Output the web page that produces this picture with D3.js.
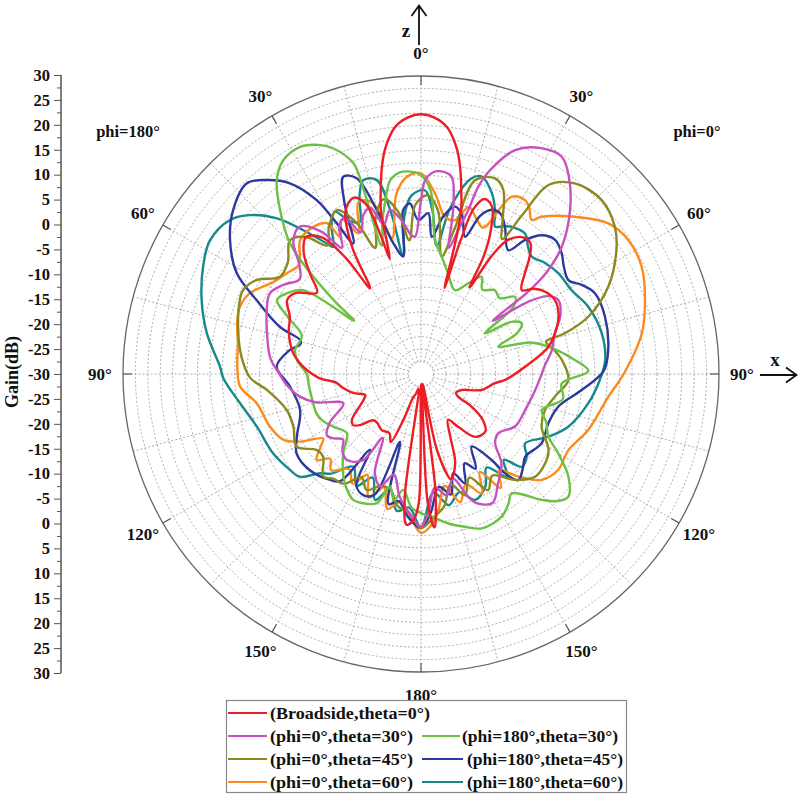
<!DOCTYPE html>
<html><head><meta charset="utf-8">
<script src="https://cdn.jsdelivr.net/npm/d3@7"></script>
<style>body{margin:0;background:#fff;} svg text{font-family:"Liberation Serif","Times New Roman",serif;font-weight:bold;fill:#111;}</style>
</head><body><svg id="c" width="800" height="796"></svg>
<script>
// ---- data ----
const axisTickLabels = ["30","25","20","15","10","5","0","-5","-10","-15","-20","-25","-30","-25","-20","-15","-10","-5","0","5","10","15","20","25","30"];
const angleTicks = [0,30,60,90,120,150,180,210,240,270,300,330];
const angleLabels = ["0°","30°","60°","90°","120°","150°","180°","150°","120°","90°","60°","30°"];
const seriesNames = ["(Broadside,theta=0°)","(phi=0°,theta=30°)","(phi=180°,theta=30°)","(phi=0°,theta=45°)","(phi=180°,theta=45°)","(phi=0°,theta=60°)","(phi=180°,theta=60°)"];
const seriesColors = ["#ee1d24","#c652c0","#6cc145","#8a8a1f","#2c3a9d","#fb8b1d","#16898a"];

// [angle (deg, clockwise from z), gain (dB)]
const red = [[-179,-4],[-177,-0.5],[-174.5,0.5],[-172.5,-5],[-170.5,-27],[-166,-26],[-161.3,-25],[-159,-20],[-156,-15],[-152,-16.5],[-145,-16.2],[-138,-16.8],[-134,-16.6],[-130,-14],[-127,-12.9],[-123.6,-13.3],[-119,-15.5],[-114.3,-17.3],[-110.6,-18],[-105.6,-15.8],[-100,-14],[-96,-12.9],[-92,-9.3],[-86,-6],[-81,-4],[-77,-3],[-72,-2],[-66.5,-1.2],[-61,0.8],[-57,0],[-52,-3.4],[-48,0],[-44,4],[-40,6],[-36,4],[-33,-2],[-30.7,-9.9],[-28.5,-1],[-25,6],[-21,8],[-18,6],[-16.2,-1],[-15.2,-6],[-14.5,-3],[-13.9,3.5],[-12.5,7.5],[-10.7,12.4],[-9,16],[-6,20],[-3,21.7],[0,22.3],[3,21.7],[6,20],[9,16],[10.7,12.4],[12.5,7.5],[13.9,3.5],[14.7,-4],[15.3,-12],[16.5,-2],[17.7,5],[20,7.5],[23,6.6],[26,2],[28,-3],[29.3,-10],[31,-2],[33,2.2],[37,4.4],[40,4.3],[43,2],[45.8,-0.8],[50.2,-3.6],[53,-1.5],[56.5,0],[61,0.8],[66,0.3],[70.8,-1],[78,-3.8],[86,-9],[94,-13],[97,-15],[104.8,-17.4],[111.5,-21.2],[118,-22],[121.5,-21.3],[122.8,-17.9],[126.6,-14.5],[132,-12.6],[139.3,-13.3],[144.9,-17],[149.6,-19.3],[155,-16],[159,-10.8],[164,-8],[168,-14],[171,-28],[173,-6],[175,1],[177,-4],[178.8,-28]];
const pink = [[-180,0.7],[-175,-2],[-170,-5],[-165,-9],[-160,-6],[-155,-8],[-149,-15],[-146,-9],[-139,-7.1],[-134,-8],[-130,-9.5],[-126,-8],[-123,-7.4],[-118,-9.2],[-110.7,-13.3],[-105,-8],[-100.6,-5.2],[-95,-3],[-90,-1.5],[-84,0.5],[-75,2.1],[-68,3.5],[-62,4.5],[-57,3],[-52,1],[-48,3],[-44,7],[-39.4,8.4],[-35,5],[-32,0],[-29,4],[-26,5],[-23,1],[-20,4],[-17,5],[-14,1],[-10.7,3.6],[-7,1],[-4,-2],[-2.5,-2.3],[0,5],[1.2,9],[3.5,10.7],[5.8,11],[8.8,10.2],[11,4],[12.5,-4],[14.5,0],[16.1,4.4],[17,9.4],[18.7,13.3],[22.8,18.9],[28,21.5],[33,22.1],[36.9,19.6],[42.3,14.6],[47.9,8.2],[51,2.5],[52.5,-3],[53.5,-12],[56,-4],[58.5,0],[61.7,1.4],[67,0.5],[73,-1.8],[80,-3.3],[86,-5],[92,-6],[100,-7],[109,-7.8],[119,-8.3],[127.5,-10.4],[133,-9.6],[138,-5.8],[145,-3],[151,-0.3],[157,-1.8],[159,-3.5],[163,-8],[168,-5],[173,-7],[177,-2]];
const green = [[-180,-2],[-176,-3],[-171.3,-6.4],[-168,-4],[-164.6,-6.5],[-161.1,-2.5],[-156,-1.5],[-151.7,-1.2],[-147,-2.5],[-142.9,-4.1],[-135.6,-7.6],[-128.6,-10.9],[-121,-9.4],[-115,-8],[-110.2,-7.5],[-103,-7.5],[-96,-7.3],[-90,-7],[-84,-5],[-79.2,-4.2],[-72.2,-4.8],[-67,-1],[-62.8,2.6],[-59,1.5],[-54.5,-0.9],[-51.5,-12.8],[-50,-7.8],[-47.9,-0.8],[-45.1,7.2],[-40.7,13.5],[-36.6,18.7],[-32.8,21.2],[-28,21.8],[-24,20.5],[-21.2,18.7],[-17.8,14.6],[-17.3,8],[-17,-3],[-14,2],[-12,5],[-9,9.5],[-6,10.8],[-3,10.8],[0,10],[3,7],[6,-2.9],[10,-6],[15,-9],[22,-11.8],[27.5,-9.4],[32,-6.9],[36,-9],[41.4,-7.5],[46,-8],[50.6,-5.5],[54,-7],[57.5,-14.7],[60,-9],[63.3,-7.3],[67,-9],[70.5,-13.5],[74,-7],[77.9,-3.8],[84.8,1.1],[89,3.7],[93.8,-1.6],[100,-1],[106.6,-4.6],[111,-3],[116.2,-1.4],[120,1.9],[124.9,6.2],[129.8,8.6],[133,7.5],[136.2,5.1],[142.8,0.2],[146,1.5],[150.5,3],[158.5,3.4],[164,2],[169.6,0.6],[175,-1]];
const olive = [[-180,1],[-175,-2],[-170,-3],[-165,-6],[-160,-6],[-154.9,-4.2],[-150,-6],[-145,-3],[-140,-2.5],[-136.4,-1.5],[-130.2,-4.2],[-126,-4],[-120.3,-1],[-112.4,-2.2],[-105,-2],[-95.9,1.2],[-91.3,4.4],[-85,6.2],[-77.4,7.7],[-67.8,9.4],[-64.7,9.6],[-60.2,8.1],[-55.4,4.5],[-50,5],[-44.4,7.7],[-40,6],[-36,2],[-32,5],[-27.2,7.1],[-23,3],[-20,-3],[-16,3],[-12,6],[-8,3],[-5,-3],[-2,4],[2,6],[6,3],[10,-6],[13,0],[15.6,10.5],[20.7,12.1],[24.1,10.6],[28,5],[31,1.7],[32.5,8],[34,15.9],[38.9,19.3],[46.1,20.5],[52.8,19],[57.6,16.6],[65,11.6],[71.1,5.6],[74.2,0.1],[75.5,-4],[79,-3],[84.3,-1.5],[92.3,-0.3],[99,-2.5],[106.2,-4],[113.6,-3.5],[120.8,-0.1],[125.8,0.8],[132,0.9],[138.4,-1.5],[145,-5],[150,-3],[155,-7],[160,-4],[165,-7],[170,-3],[175,-1]];
const blue = [[-180,1],[-175,-1],[-170,-4],[-166,-3],[-162.8,-15.7],[-159,-4],[-155,-3],[-150,-4],[-146.1,-11.6],[-143,-3],[-139.4,-1.9],[-130.9,-0.4],[-122.5,-0.3],[-116.8,-2],[-106.6,-4.6],[-95.5,-3.5],[-87.1,-0.9],[-80,-3],[-76,-5],[-74.3,-4.7],[-71.5,0],[-65.8,6.3],[-61.3,12.3],[-54.9,17],[-48.9,20.2],[-42.4,22],[-38.5,19.9],[-34.5,16.6],[-31,10.9],[-29.2,4.8],[-27.4,-0.4],[-24,8],[-21.5,12.7],[-18.2,11.5],[-15,4],[-12,-3],[-8.6,-6],[-6.2,3.2],[-3.7,4.4],[-1,1],[2.6,2.4],[4.5,-2.3],[8,2],[11.5,4.4],[14.5,3],[17.8,-1],[20.5,4],[23.3,6],[26.5,6],[29.7,4.1],[35.2,0.5],[37.8,4.1],[41,7],[45,8.2],[49.4,7.3],[53,6],[57.5,5.2],[61,7],[65.1,8.6],[72.7,8.8],[82.7,8],[89,6.8],[95.7,2.5],[103.4,-1.6],[111.2,-2.5],[119.9,-2],[128.5,-3.2],[133,-2],[137.5,-1],[139.8,-3.8],[140.6,-7.6],[145.1,-12.2],[150,-8],[154,-10],[158.1,-6.3],[162,-9],[166,-5],[171,-7],[176,-2]];
const orange = [[-180,2],[-176,-1],[-171,-4],[-166,-2],[-162,-6],[-157,-3],[-152,-7],[-148,-4],[-143,-6],[-137,-3.5],[-133,-5],[-129.5,-2.8],[-126,-5],[-123.4,-6.4],[-119.2,-2.1],[-115.6,0.7],[-109.2,2.2],[-100.1,3.6],[-94,6.5],[-88,7],[-80.4,7.4],[-74,8.5],[-69.6,8.9],[-64.7,8.1],[-58,5],[-53.1,3.8],[-48,3],[-42.1,6.3],[-36.2,6.7],[-32,5.8],[-30.5,2.1],[-27,5],[-24,1],[-20,6.8],[-16,6],[-12,-2],[-9,4],[-7.7,6.7],[-4.1,9.8],[0,10.4],[4.4,6.5],[8.7,2],[12.4,1.7],[16,5],[20,3],[23,2],[27.1,10.1],[30.9,10.8],[33,10],[35.7,8.2],[37.5,9.9],[44.4,14.3],[51.2,18.4],[57.1,19.7],[64.1,19.4],[71.7,17.5],[79.6,15.2],[90,10.8],[96.9,8],[108.5,5.5],[117.3,3.4],[124.9,3.7],[131.3,2.3],[136.5,-1.5],[141,-5],[145,-2],[149,-7],[153,-3],[158,-6],[163,-3],[168,-7],[173,-2],[177,1]];
const teal = [[-180,1],[-175,-3],[-170,-2],[-165,-6],[-160,-3],[-155,-7],[-150,-4],[-143.9,-6.9],[-138,-3],[-134.5,-1.5],[-130.3,2],[-126.2,2.7],[-118.2,3.8],[-107.8,4.7],[-99.2,6.9],[-91.2,9.8],[-87.9,10.5],[-79.2,13.9],[-71.4,16.6],[-63.8,18.9],[-57.6,20.3],[-51.1,19.4],[-47.1,17],[-42.8,12.7],[-39.3,7.4],[-35.8,2.4],[-34.6,1.1],[-31,5],[-28,7],[-25,4],[-22,3],[-19,8],[-16.6,10.7],[-12.9,10.1],[-10.5,3],[-8.6,-6.1],[-6,2],[-3,6],[1.2,7],[4,3],[7,-4],[10,4],[14.5,10.7],[17.1,11.6],[21.4,9.1],[24.5,6],[26.7,3.2],[29,4],[31.6,4.8],[36.5,5.2],[40,3.5],[43.3,2.5],[48,3.5],[53.7,4.3],[60.9,4.7],[68.1,6.3],[77.3,7.3],[85.6,7.2],[92,6],[99.9,4.2],[109.7,1.5],[116.2,-1.4],[123.7,-4.8],[128,-3],[132.6,-2.4],[136,-6],[140,-3],[145,-7],[150,-4],[156.8,-2.4],[162,-5],[168,-3],[174,-6]];
const seriesData = [red,pink,green,olive,blue,orange,teal];

// ---- drawing ----
const svg = d3.select("#c");
const CX = 421, CY = 374, R = 298;
const r = d3.scaleLinear().domain([-30,30]).range([0,R]);
const rad = d => d*Math.PI/180;

const g = svg.append("g").attr("transform",`translate(${CX},${CY})`);
const ringVals = d3.range(-27.5, 30, 2.5);
g.selectAll("circle.ring").data(ringVals).join("circle")
  .attr("r", d=>r(d)).attr("fill","none").attr("stroke","#9a9a9a")
  .attr("stroke-width",0.8).attr("stroke-dasharray","2,2");
const spokeAngles = d3.range(0,360,15);
g.selectAll("line.spoke").data(spokeAngles).join("line")
  .attr("x1", d=>r(-27.5)*Math.sin(rad(d))).attr("y1", d=>-r(-27.5)*Math.cos(rad(d)))
  .attr("x2", d=>R*Math.sin(rad(d))).attr("y2", d=>-R*Math.cos(rad(d)))
  .attr("stroke","#9a9a9a").attr("stroke-width",0.8).attr("stroke-dasharray","2,2");
g.append("circle").attr("r",R).attr("fill","none").attr("stroke","#666").attr("stroke-width",1.3);
g.selectAll("line.otick").data(angleTicks).join("line")
  .attr("x1", d=>(R-9)*Math.sin(rad(d))).attr("y1", d=>-(R-9)*Math.cos(rad(d)))
  .attr("x2", d=>R*Math.sin(rad(d))).attr("y2", d=>-R*Math.cos(rad(d)))
  .attr("stroke","#555").attr("stroke-width",1.2);
const LR = 321;
g.selectAll("text.alab").data(angleTicks).join("text")
  .attr("x", d=>LR*Math.sin(rad(d))).attr("y", d=>-LR*Math.cos(rad(d)))
  .attr("text-anchor","middle").attr("dominant-baseline","central")
  .attr("font-size",17).text((d,i)=>angleLabels[i]);

const line = d3.lineRadial()
  .angle(d=>rad(d[0]))
  .radius(d=>r(Math.max(-30,d[1])))
  .curve(d3.curveCatmullRomClosed.alpha(0.5));
const order = [6,5,4,3,2,1,0];
order.forEach(i=>{
  g.append("path").attr("d", line(seriesData[i])).attr("fill","none")
    .attr("stroke", seriesColors[i]).attr("stroke-width",2.4).attr("stroke-linejoin","round");
});

const ay = d3.scaleLinear().domain([0,24]).range([75,673]);
const axG = svg.append("g").attr("transform","translate(61,0)");
axG.call(d3.axisLeft(ay).tickValues(d3.range(0,25)).tickSize(7).tickPadding(4).tickFormat(i=>axisTickLabels[i]));
axG.append("g").call(d3.axisLeft(ay).tickValues(d3.range(0.5,24,1)).tickSize(4).tickFormat(""));
axG.selectAll(".domain").attr("stroke","#555").attr("d","M0,75V673");
axG.selectAll(".tick line").attr("stroke","#555");
axG.selectAll(".tick text").attr("font-size",16.5).attr("font-family","Liberation Serif").attr("font-weight","bold").attr("fill","#111");
svg.append("text").attr("transform","translate(18,372) rotate(-90)").attr("text-anchor","middle")
  .attr("font-size",18).text("Gain(dB)");

svg.append("text").attr("x",128).attr("y",137).attr("text-anchor","middle").attr("font-size",16.5).text("phi=180°");
svg.append("text").attr("x",697).attr("y",137).attr("text-anchor","middle").attr("font-size",16.5).text("phi=0°");

svg.append("path").attr("d","M419,45V6M411.5,16L419,5.5L426.5,16").attr("fill","none").attr("stroke","#111").attr("stroke-width",1.8);
svg.append("text").attr("x",406).attr("y",37).attr("text-anchor","middle").attr("font-size",19).text("z");
svg.append("path").attr("d","M760,375H796M786,367.5L796.5,375L786,382.5").attr("fill","none").attr("stroke","#111").attr("stroke-width",1.8);
svg.append("text").attr("x",775).attr("y",366).attr("text-anchor","middle").attr("font-size",19).text("x");

svg.append("rect").attr("x",226.5).attr("y",700.5).attr("width",400).attr("height",92).attr("fill","#fff").attr("stroke","#888").attr("stroke-width",1.2);
const legendPos = [[228,267,270,713,160],[228,267,270,736,143],[422,460,462,736,156],[228,267,270,759,143],[422,463,467,759,156],[228,267,270,782,143],[422,463,467,782,156]];
legendPos.forEach((p,i)=>{
  svg.append("line").attr("x1",p[0]).attr("x2",p[1]).attr("y1",p[3]).attr("y2",p[3]).attr("stroke",seriesColors[i]).attr("stroke-width",2.2);
  svg.append("text").attr("x",p[2]).attr("y",p[3]+5.5).attr("font-size",16).attr("textLength",p[4]).attr("lengthAdjust","spacingAndGlyphs").text(seriesNames[i]);
});
</script></body></html>
